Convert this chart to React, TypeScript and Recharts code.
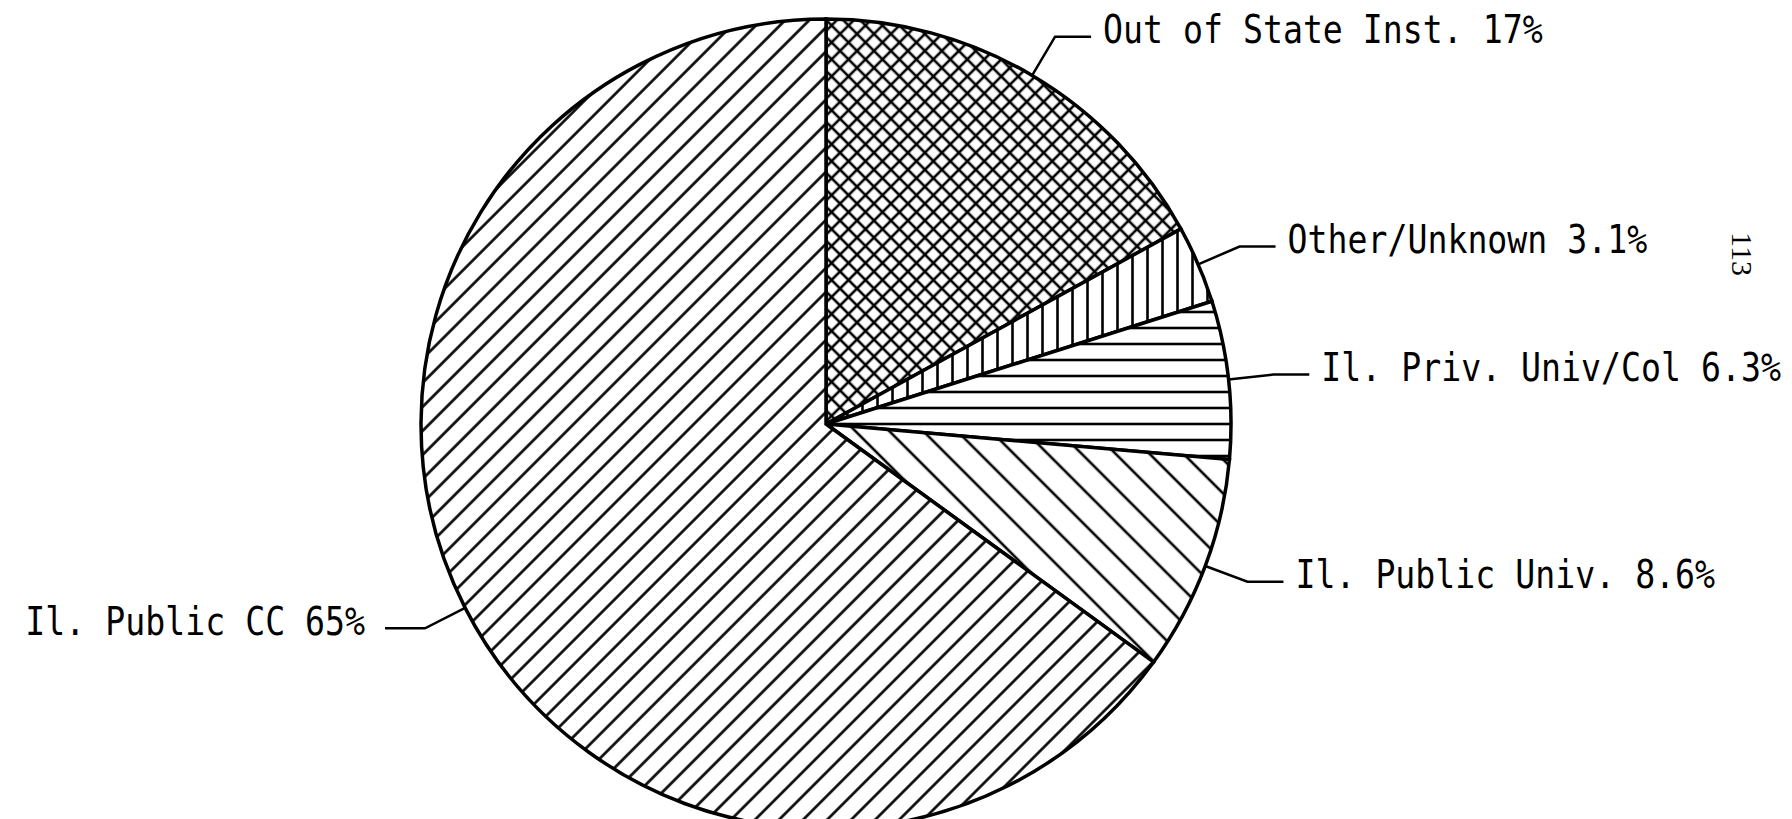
import React from 'react';
import { PieChart, Pie, Cell } from 'recharts';

const categories = ['Out of State Inst.', 'Other/Unknown', 'Il. Priv. Univ/Col', 'Il. Public Univ.', 'Il. Public CC'];
const shares = [17, 3.1, 6.3, 8.6, 65];
const shareLabels = ['17%', '3.1%', '6.3%', '8.6%', '65%'];
const patternIds = ['crossHatch', 'vertHatch', 'horizHatch', 'backDiag', 'fwdDiag'];
const pageNumber = '113';

const data = categories.map((name, i) => ({
  name,
  value: shares[i],
  label: `${name} ${shareLabels[i]}`,
}));

const RAD = Math.PI / 180;
const FONT = '"DejaVu Sans Mono", "Liberation Mono", monospace';

function renderLabel(props: any) {
  const { cx, cy, midAngle, outerRadius, index } = props;
  const cos = Math.cos(-midAngle * RAD);
  const sin = Math.sin(-midAngle * RAD);
  const sx = cx + outerRadius * cos;
  const sy = cy + outerRadius * sin;
  const ex = cx + (outerRadius + 45) * cos;
  const ey = cy + (outerRadius + 45) * sin;
  const dir = cos >= 0 ? 1 : -1;
  const hx = ex + dir * (dir > 0 ? 36 : 40);
  const tx = hx + dir * (dir > 0 ? 12 : 20);
  return (
    <g key={`lbl-${index}`}>
      <polyline
        points={`${sx},${sy} ${ex},${ey} ${hx},${ey}`}
        fill="none"
        stroke="#000"
        strokeWidth={2.5}
      />
      <text
        transform={`translate(${tx},${ey - 7}) scale(1,1.15)`}
        x={0}
        y={0}
        textAnchor={dir > 0 ? 'start' : 'end'}
        dominantBaseline="central"
        fontFamily={FONT}
        fontSize={33.2}
        fill="#000"
      >
        {data[index].label}
      </text>
    </g>
  );
}

function Patterns() {
  const sw = 2.6;
  return (
    <svg width={0} height={0} style={{ position: 'absolute' }}>
      <defs>
        <pattern id="fwdDiag" patternUnits="userSpaceOnUse" width={17} height={17} patternTransform="rotate(-45)">
          <rect width={17} height={17} fill="#fff" />
          <line x1={0} y1={8.5} x2={17} y2={8.5} stroke="#000" strokeWidth={sw} />
        </pattern>
        <pattern id="backDiag" patternUnits="userSpaceOnUse" width={24} height={24} patternTransform="rotate(45)">
          <rect width={24} height={24} fill="#fff" />
          <line x1={0} y1={12} x2={24} y2={12} stroke="#000" strokeWidth={sw} />
        </pattern>
        <pattern id="horizHatch" patternUnits="userSpaceOnUse" width={16} height={16}>
          <rect width={16} height={16} fill="#fff" />
          <line x1={0} y1={8} x2={16} y2={8} stroke="#000" strokeWidth={sw} />
        </pattern>
        <pattern id="vertHatch" patternUnits="userSpaceOnUse" width={15} height={15}>
          <rect width={15} height={15} fill="#fff" />
          <line x1={7.5} y1={0} x2={7.5} y2={15} stroke="#000" strokeWidth={sw} />
        </pattern>
        <pattern id="crossHatch" patternUnits="userSpaceOnUse" width={12} height={12} patternTransform="rotate(45)">
          <rect width={12} height={12} fill="#fff" />
          <line x1={0} y1={6} x2={12} y2={6} stroke="#000" strokeWidth={sw} />
          <line x1={6} y1={0} x2={6} y2={12} stroke="#000" strokeWidth={sw} />
        </pattern>
      </defs>
    </svg>
  );
}

export default function App() {
  return (
    <div style={{ position: 'absolute', left: 0, top: 0, width: 1792, height: 819, background: '#fff', overflow: 'hidden' }}>
      <Patterns />
      <PieChart width={1792} height={819}>
        <Pie
          data={data}
          dataKey="value"
          nameKey="name"
          cx={821}
          cy={419}
          outerRadius={405}
          startAngle={90}
          endAngle={-270}
          stroke="#000"
          strokeWidth={3.5}
          labelLine={false}
          label={renderLabel}
          isAnimationActive={false}
        >
          {data.map((d, i) => (
            <Cell key={d.name} fill={`url(#${patternIds[i]})`} />
          ))}
        </Pie>
      </PieChart>
      <div
        style={{
          position: 'absolute',
          left: 1742,
          top: 254,
          transform: 'translate(-50%, -50%) rotate(90deg)',
          fontFamily: '"Liberation Serif", "DejaVu Serif", serif',
          fontSize: 30,
          lineHeight: 1,
          color: '#000',
        }}
      >
        {pageNumber}
      </div>
    </div>
  );
}
